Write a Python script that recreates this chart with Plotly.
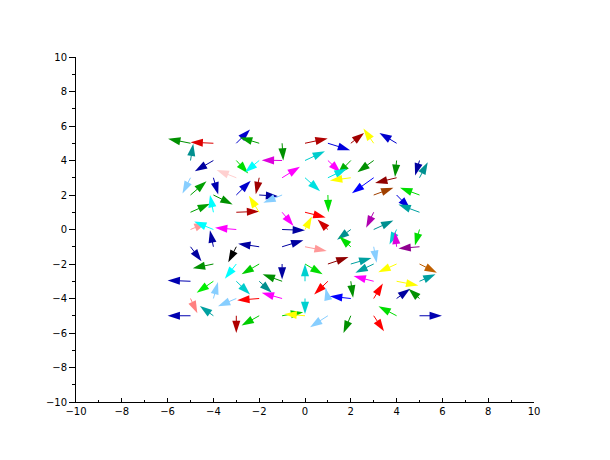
import plotly.graph_objects as go

# arrow tails (grid points) and tips
tail_x = [-5, -4, -3, -2, -1, 0, 1, 2, 3, 4,
          -5, -4, -3, -2, -1, 0, 1, 2, 3, 4, 5,
          -5, -4, -3, -2, -1, 0, 1, 2, 3, 4, 5,
          -5, -4, -3, -2, -1, 1, 3, 4, 5,
          -5, -4, -3, -2, -1, 0, 3, 5,
          -5, -4, -3, -1, 0, 1, 2, 3, 4, 5,
          -5, -4, -3, -2, -1, 0, 2, 3, 4, 5,
          -4, -3, -2, -1, 0, 1, 2, 3, 4, 5,
          -5, -4, -3, -2, -1, 0, 1, 2, 3, 4, 5,
          -5, -4, -3, -2, -1, 0, 1, 2, 3, 4, 5,
          -5, -4, -3, -2, -1, 0, 1, 2, 3, 4, 5]
tail_y = [5] * 10 + [4] * 11 + [3] * 11 + [2] * 9 + [1] * 8 + [0] * 10 \
    + [-1] * 10 + [-2] * 10 + [-3] * 11 + [-4] * 11 + [-5] * 11
tip_x = [-5.98, -5.0, -2.4, -2.84, -0.95, 0.99, 1.97, 2.58, 2.55, 3.25,
         -4.88, -4.81, -2.48, -2.62, -1.89, 0.87, 1.56, 1.41, 2.29, 3.93, 4.81,
         -5.35, -3.79, -3.86, -2.15, -0.22, 0.66, 1.82, 1.09, 2.05, 3.06, 5.36,
         -4.3, -3.16, -2.37, -1.17, -1.82, 1.02, 3.86, 4.59, 4.15,
         -4.15, -4.15, -2.0, -2.45, -0.5, 0.9, 2.67, 4.08,
         -4.3, -4.84, -3.93, 0.0, 0.3, 0.55, 1.4, 3.86, 3.69, 4.8,
         -4.52, -4.15, -3.35, -2.92, -0.07, 0.95, 1.5, 3.13, 3.93, 4.08,
         -4.9, -3.5, -2.77, -1.0, 0.77, 1.9, 2.9, 2.2, 3.2, 5.76,
         -6.0, -4.73, -2.4, -1.45, -1.85, 0.0, 0.4, 2.1, 2.12, 4.95, 5.7,
         -4.7, -3.8, -3.8, -2.96, -1.89, 0.0, 0.9, 1.09, 3.4, 4.59, 4.52,
         -6.0, -4.59, -3.0, -2.77, -0.08, -0.9, 0.22, 1.68, 3.45, 3.21, 5.98]
tip_y = [5.26, 5.06, 5.8, 5.34, 4.0, 5.28, 4.6, 5.6, 5.85, 5.6,
         4.97, 3.38, 3.25, 3.32, 4.02, 4.54, 3.29, 3.19, 3.32, 3.05, 3.13,
         2.09, 2.03, 3.45, 2.05, 3.64, 2.22, 3.52, 2.84, 2.1, 2.7, 3.9,
         2.8, 1.45, 2.83, 1.93, 1.55, 1.0, 2.42, 1.2, 2.42,
         1.5, 2.0, 1.05, 1.95, 0.2, 0.7, 0.1, 1.45,
         0.39, 0.46, 0.1, -0.05, 0.75, 0.58, -0.6, 0.52, -0.87, -0.93,
         -1.84, -0.05, -1.9, -0.82, -0.62, -1.25, -0.4, -1.93, -0.13, -1.1,
         -2.25, -2.85, -2.6, -2.9, -2.6, -1.6, -1.65, -2.5, -2.48, -2.5,
         -2.95, -3.67, -3.77, -3.67, -2.6, -2.0, -3.77, -3.95, -2.7, -3.25, -2.6,
         -4.85, -3.05, -4.45, -4.1, -3.67, -4.9, -3.4, -3.87, -3.13, -3.44, -3.44,
         -5.0, -4.44, -6.0, -5.57, -4.79, -4.9, -5.66, -6.0, -5.9, -4.45, -5.0]
colors = ['#009000', '#dd0000', '#0000cc', '#00a000', '#009000', '#b00000', '#0000dd', '#a00000', '#ffff00', '#0000cc',
          '#008f8f', '#0000a0', '#00dd00', '#00ffff', '#dd00dd', '#00cccc', '#ff00ff', '#00b000', '#009000', '#009000', '#0000a0',
          '#87ceff', '#0000b0', '#ffd0d0', '#a00000', '#ff00ff', '#00e0e0', '#00e0e0', '#ffff00', '#0000ff', '#900000', '#009090',
          '#00a000', '#009000', '#0000cc', '#0000a0', '#87ceff', '#00e000', '#a04000', '#0000dd', '#00dd00',
          '#00a000', '#00ffff', '#b00000', '#ffff00', '#ff00ff', '#ff0000', '#b000b0', '#00a0a0',
          '#ff9999', '#00ffff', '#ff00ff', '#0000a0', '#ffff00', '#d00000', '#009090', '#009090', '#00d0d0', '#00dd00',
          '#0000a0', '#0000a0', '#000000', '#0000a0', '#0000a0', '#ff9999', '#00dd00', '#87ceff', '#dd00dd', '#900090',
          '#009000', '#00ffff', '#00cc00', '#0000a0', '#00dd00', '#900000', '#00a0a0', '#00a0a0', '#ffff00', '#c06000',
          '#0000b0', '#00ee00', '#00cccc', '#008f8f', '#009000', '#00d0d0', '#ff0000', '#009000', '#ff00ff', '#ffff00', '#00a0a0',
          '#ff8080', '#87ceff', '#87ceff', '#ff0000', '#ff00ff', '#00d0d0', '#87ceff', '#0000ff', '#ff0000', '#0000a0', '#009000',
          '#0000b0', '#00a0a0', '#b00000', '#00cc00', '#00cc00', '#ffff00', '#87ceff', '#009000', '#ff0000', '#00dd00', '#0000b0']

fig = go.Figure()
for x0, y0, x1, y1, c in zip(tail_x, tail_y, tip_x, tip_y, colors):
    fig.add_trace(go.Scatter(x=[x0, x1], y=[y0, y1], mode='lines+markers',
                             line=dict(color=c, width=1),
                             marker=dict(symbol='arrow', size=[0, 13], angleref='previous',
                                         color=c, opacity=1, line=dict(width=0)),
                             hoverinfo='skip', showlegend=False))

axis_font = dict(family='DejaVu Sans', size=10, color='black')
fig.update_layout(
    width=610, height=460,
    margin=dict(l=68, r=84, t=49, b=66),
    paper_bgcolor='white', plot_bgcolor='white',
    xaxis=dict(range=[-10, 10], tick0=-10, dtick=2, ticks='inside', ticklen=4,
               minor=dict(dtick=1, ticks='inside', ticklen=2, tickcolor='black'),
               showline=True, linecolor='black', linewidth=1, tickcolor='black',
               showgrid=False, zeroline=False, tickfont=axis_font),
    yaxis=dict(range=[-10, 10], tick0=-10, dtick=2, ticks='outside', ticklen=6,
               minor=dict(dtick=1, ticks='outside', ticklen=3, tickcolor='black'),
               showline=True, linecolor='black', linewidth=1, tickcolor='black',
               showgrid=False, zeroline=False, tickfont=axis_font),
)

fig.write_html("out.html")
